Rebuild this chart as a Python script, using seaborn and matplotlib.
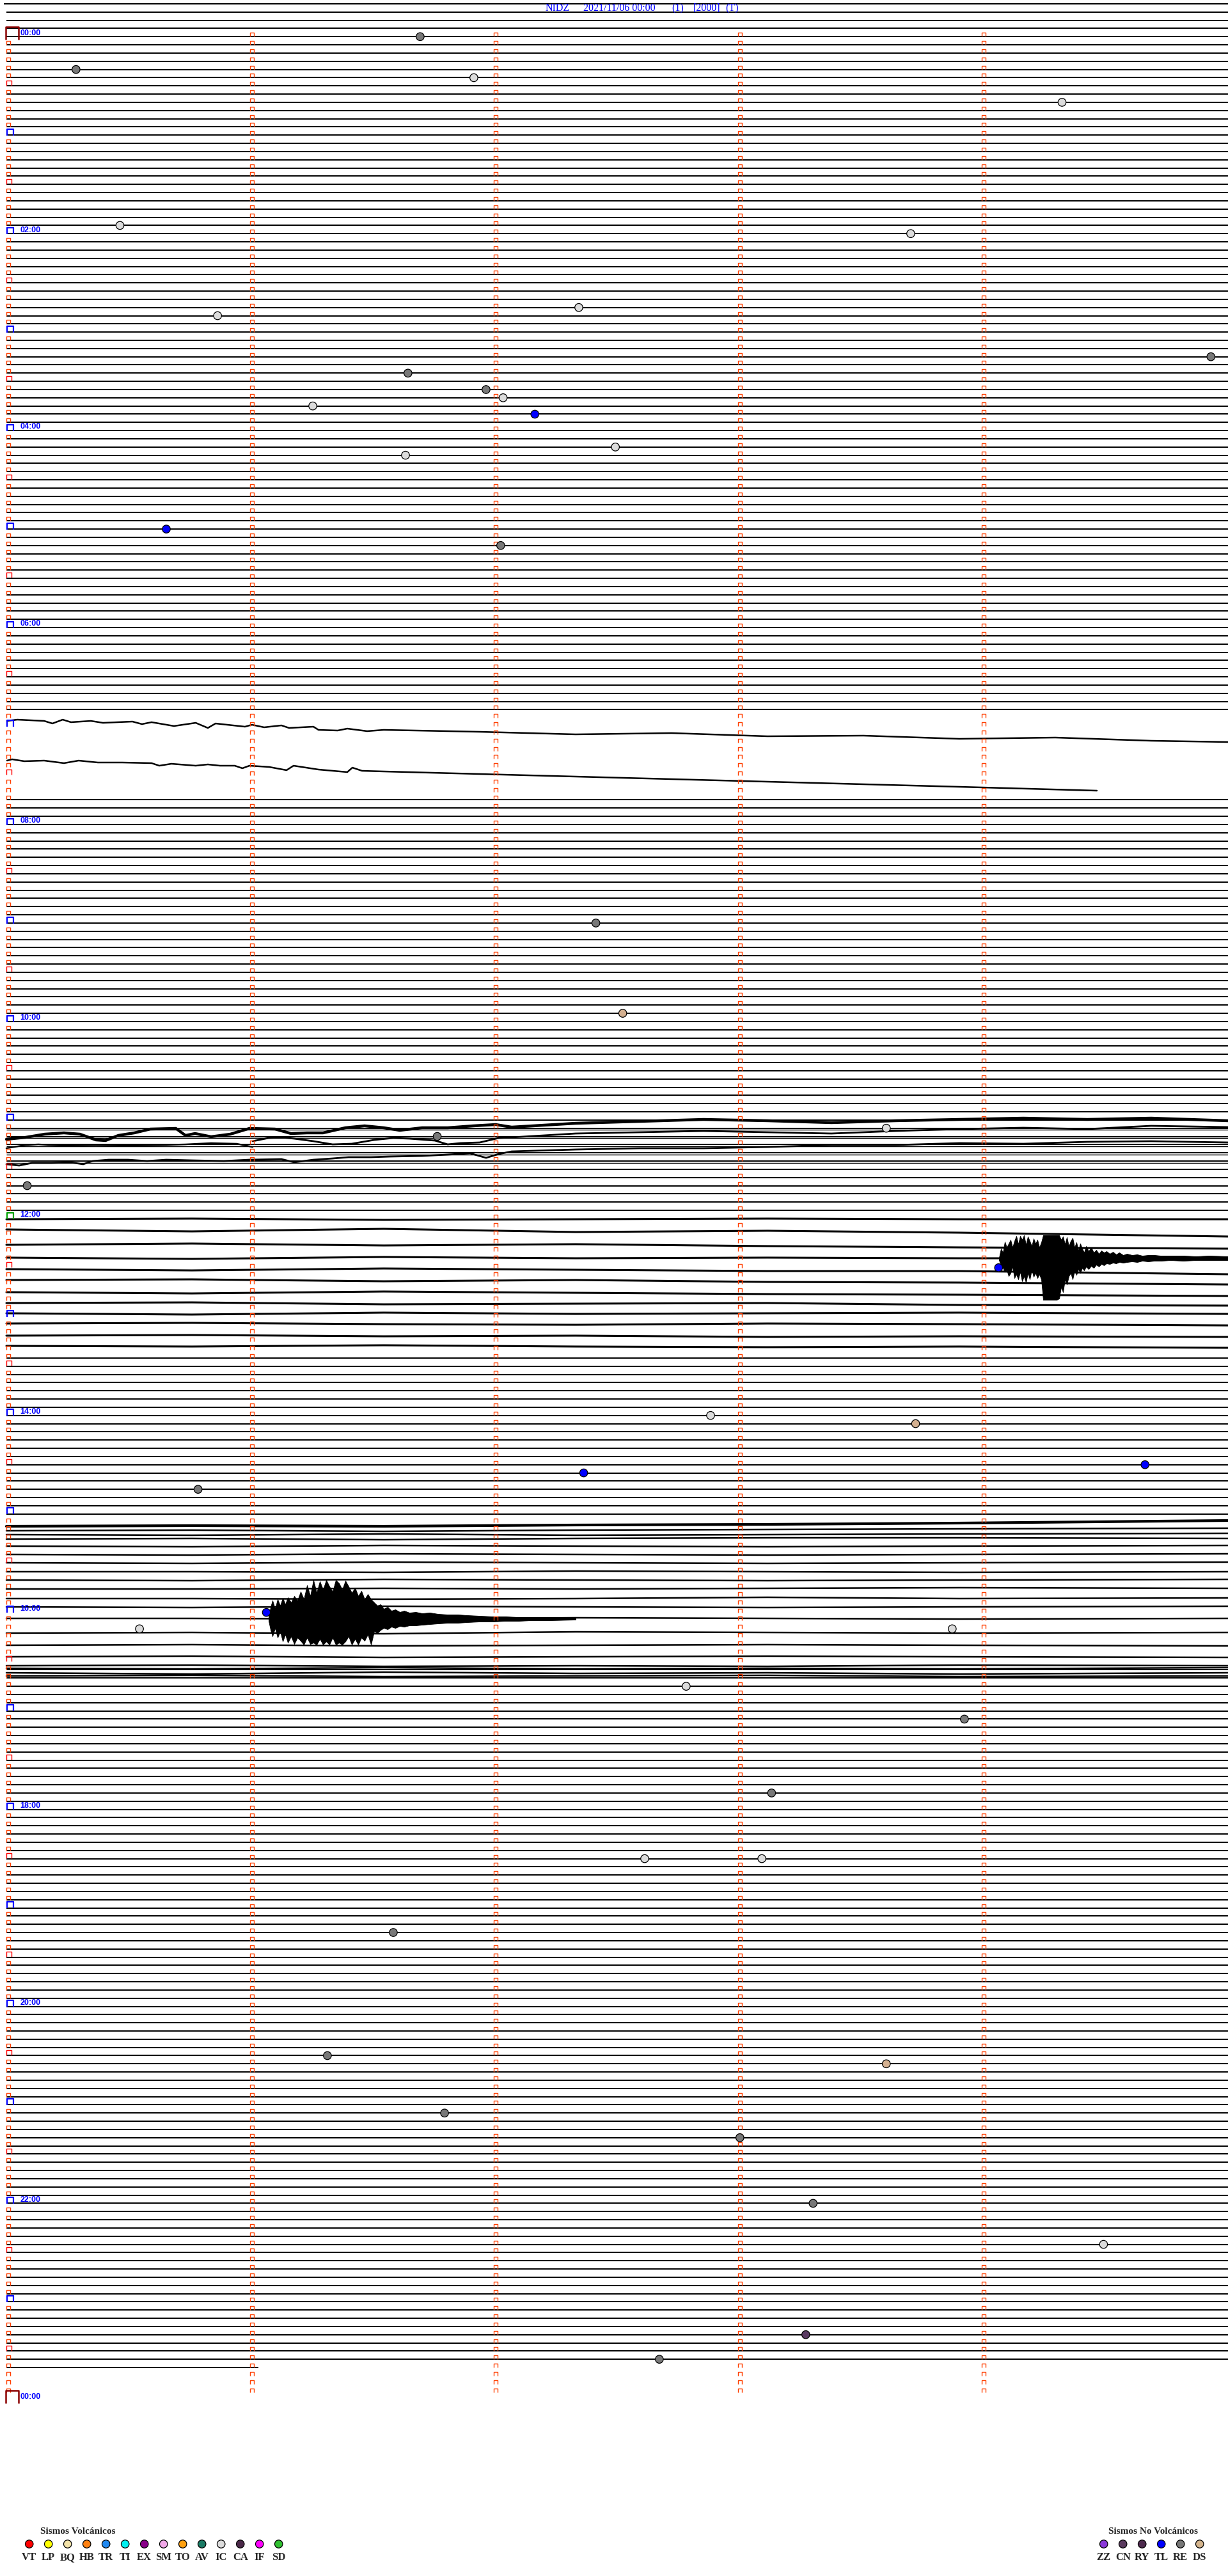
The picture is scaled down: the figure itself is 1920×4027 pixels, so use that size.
import numpy as np
import matplotlib
matplotlib.use("Agg")
import matplotlib.pyplot as plt
from matplotlib.path import Path
import seaborn as sns

# ---------------- data ----------------
header_parts = ["NIDZ", "2021/11/06 00:00", "(1)", "[2000]", "(T)"]
header_x = [853, 912, 1050, 1084, 1134]

hour_labels = ["00:00", "02:00", "04:00", "06:00", "08:00", "10:00", "12:00",
               "14:00", "16:00", "18:00", "20:00", "22:00", "00:00"]

# event times (minutes after 00:00) and types
event_min = [1.69, 20.28, 26.91, 44.32, 115.46, 123.70, 167.34, 170.86, 199.93,
             206.64, 216.96, 222.03, 226.25, 232.16, 252.49, 256.63, 300.65,
             312.02, 542.41, 597.52, 668.60, 671.76, 700.08, 754.06, 842.88,
             848.72, 874.66, 877.36, 885.78, 961.06, 970.54, 973.87, 1007.78,
             1028.92, 1073.13, 1112.61, 1113.09, 1156.58, 1231.31, 1238.60,
             1266.79, 1283.00, 1323.30, 1349.49, 1403.27, 1417.67]
event_type = ["RE", "RE", "IC", "IC", "IC", "IC", "IC", "IC", "RE",
              "RE", "RE", "IC", "IC", "TL", "IC", "IC", "TL",
              "RE", "RE", "DS", "IC", "RE", "RE", "TL", "IC",
              "DS", "TL", "TL", "RE", "TL", "IC", "IC", "IC",
              "RE", "RE", "IC", "IC", "RE", "RE", "DS",
              "RE", "RE", "RE", "IC", "CN", "RE"]

volc_codes = ["VT", "LP", "BQ", "HB", "TR", "TI", "EX", "SM", "TO", "AV", "IC", "CA", "IF", "SD"]
volc_colors = ["#ff0000", "#ffff00", "#f2e2a8", "#ff8010", "#2088f0", "#00f0f0", "#880088",
               "#f0a8e8", "#ffa010", "#1a7a64", "#dcdcdc", "#4a2848", "#ff00ff", "#30c030"]
novolc_codes = ["ZZ", "CN", "RY", "TL", "RE", "DS"]
novolc_colors = ["#8a38d8", "#5a3a5e", "#4e2a4e", "#0000ff", "#767676", "#d4b48c"]
type_colors = {"RE": "#787878", "IC": "#dcdcdc", "TL": "#0000ff", "DS": "#d4b090", "CN": "#5a3a62"}

# drifting traces (pixel positions read from the record)
a1_x = [11, 27, 69, 82, 98, 111, 142, 161, 207, 222, 237, 272, 306, 325, 337, 383, 394, 413,
        440, 452, 490, 498, 528, 543, 574, 600, 750, 900, 1050, 1200, 1350, 1500, 1650, 1800, 1920]
a1_y = [1127, 1125, 1127, 1131, 1125, 1129, 1127, 1130, 1128, 1132, 1129, 1135, 1130, 1138, 1131,
        1136, 1133, 1137, 1134, 1138, 1136, 1141, 1142, 1139, 1143, 1141, 1144, 1148, 1146, 1151,
        1150, 1155, 1153, 1158, 1160]
a2_x = [11, 19, 38, 69, 100, 123, 153, 191, 237, 249, 268, 306, 325, 344, 367, 379, 390, 421,
        448, 459, 498, 543, 551, 566, 600, 750, 900, 1050, 1200, 1350, 1500, 1715]
a2_y = [1189, 1187, 1190, 1189, 1193, 1189, 1192, 1192, 1193, 1197, 1194, 1197, 1195, 1197, 1197,
        1201, 1197, 1199, 1204, 1197, 1203, 1207, 1200, 1205, 1206, 1210, 1214, 1218, 1222, 1226,
        1230, 1236]

b1_x = [10, 40, 70, 100, 125, 150, 165, 185, 210, 235, 275, 290, 305, 330, 360, 390, 430, 455, 480,
        505, 540, 570, 600, 625, 660, 700, 740, 775, 800, 900, 1000, 1100, 1200, 1300, 1400, 1500,
        1600, 1700, 1800, 1920]
b1_y = [1781, 1778, 1773, 1771, 1773, 1782, 1783, 1775, 1771, 1765, 1764, 1775, 1772, 1777, 1773,
        1764, 1765, 1772, 1771, 1771, 1763, 1760, 1763, 1767, 1763, 1763, 1760, 1758, 1762, 1756,
        1753, 1750, 1752, 1755, 1752, 1750, 1748, 1750, 1748, 1752]
b2_x = [10, 40, 60, 100, 150, 200, 250, 290, 330, 370, 395]
b2_y = [1795, 1790, 1789, 1791, 1790, 1791, 1790, 1789, 1787, 1788, 1793]
b3_x = [395, 420, 440, 460, 490, 520, 550, 585, 615, 640, 680, 700, 720, 750, 780, 800, 900, 1000,
        1100, 1200, 1300, 1400, 1500, 1600, 1700, 1800, 1920]
b3_y = [1784, 1779, 1778, 1780, 1784, 1789, 1788, 1782, 1779, 1780, 1783, 1789, 1787, 1786, 1779,
        1778, 1772, 1770, 1768, 1770, 1772, 1768, 1765, 1763, 1765, 1760, 1762]
b4_x = [10, 30, 50, 80, 110, 130, 145, 170, 200, 230, 260, 300, 350, 390, 440, 460, 490, 520, 545,
        580, 610, 660, 700, 735, 760, 780, 800, 900, 1000, 1100, 1200, 1300, 1400, 1500, 1600,
        1700, 1800, 1920]
b4_y = [1820, 1822, 1818, 1818, 1817, 1820, 1815, 1813, 1813, 1815, 1813, 1814, 1815, 1813, 1812,
        1817, 1813, 1811, 1809, 1809, 1808, 1807, 1805, 1803, 1810, 1804, 1800, 1797, 1795, 1795,
        1793, 1790, 1790, 1787, 1788, 1785, 1784, 1786]

band_x = [10, 300, 600, 900, 1200, 1500, 1920]
c_traces = [[1906, 1905, 1907, 1906, 1905, 1906, 1906],
            [1922, 1925, 1921, 1926, 1924, 1927, 1933],
            [1946, 1944, 1947, 1945, 1948, 1950, 1952],
            [1966, 1968, 1965, 1967, 1966, 1967, 1967],
            [1984, 1986, 1983, 1985, 1987, 1987, 1992],
            [2001, 2000, 2003, 2001, 2004, 2005, 2008],
            [2020, 2022, 2019, 2021, 2023, 2024, 2026],
            [2037, 2036, 2039, 2038, 2037, 2040, 2041],
            [2053, 2055, 2052, 2054, 2053, 2052, 2054],
            [2069, 2068, 2070, 2071, 2069, 2070, 2072],
            [2088, 2087, 2089, 2088, 2090, 2089, 2090],
            [2104, 2105, 2103, 2105, 2106, 2105, 2107]]
d_top = [2386, 2385, 2386, 2384, 2383, 2381, 2377]
d_traces = [[2393, 2392, 2394, 2392, 2391, 2390, 2389],
            [2399, 2400, 2398, 2400, 2399, 2398, 2397],
            [2406, 2405, 2407, 2405, 2404, 2404, 2405],
            [2417, 2418, 2416, 2417, 2418, 2417, 2416],
            [2430, 2431, 2429, 2430, 2431, 2430, 2429],
            [2443, 2444, 2442, 2443, 2444, 2443, 2442],
            [2457, 2457, 2458, 2456, 2457, 2458, 2457],
            [2470, 2471, 2469, 2470, 2471, 2470, 2469],
            [2484, 2484, 2483, 2484, 2483, 2482, 2483],
            [2499, 2499, 2500, 2499, 2497, 2499, 2498],
            [2512, 2513, 2511, 2512, 2513, 2512, 2511],
            [2530, 2530, 2531, 2529, 2530, 2531, 2530],
            [2553, 2552, 2554, 2551, 2552, 2553, 2552],
            [2572, 2571, 2573, 2572, 2571, 2572, 2573],
            [2590, 2589, 2591, 2590, 2589, 2590, 2591],
            [2604, 2603, 2605, 2604, 2605, 2603, 2604],
            [2608, 2609, 2607, 2609, 2608, 2609, 2607],
            [2615, 2617, 2614, 2616, 2615, 2617, 2615],
            [2620, 2619, 2621, 2620, 2619, 2621, 2620]]

# earthquake envelopes (x, top, bottom) read from the record
q1_x = [1562, 1565, 1568, 1571, 1574, 1577, 1580, 1583, 1586, 1589, 1592, 1595, 1598, 1601, 1604,
        1607, 1610, 1613, 1616, 1619, 1622, 1625, 1628, 1631, 1634, 1640, 1646, 1652, 1656, 1659,
        1662, 1665, 1668, 1671, 1674, 1677, 1680, 1683, 1686, 1689, 1692, 1695, 1698, 1702, 1706,
        1710, 1714, 1718, 1722, 1726, 1730, 1735, 1740, 1745, 1750, 1756, 1762, 1770, 1778, 1786,
        1795, 1805, 1815, 1830, 1850, 1870, 1890, 1920]
q1_top = [1966, 1952, 1958, 1941, 1950, 1944, 1938, 1950, 1940, 1932, 1945, 1932, 1938, 1931, 1946,
          1933, 1940, 1948, 1936, 1944, 1938, 1950, 1942, 1931, 1931, 1931, 1931, 1931, 1931, 1938,
          1933, 1945, 1934, 1948, 1940, 1935, 1950, 1942, 1955, 1944, 1952, 1958, 1948, 1956, 1950,
          1958, 1954, 1960, 1955, 1958, 1956, 1960, 1957, 1961, 1958, 1962, 1960, 1962, 1961, 1963,
          1962, 1962, 1963, 1963, 1963, 1964, 1963, 1964]
q1_bot = [1970, 1978, 1982, 1988, 1985, 1995, 1990, 1980, 1998, 1992, 2000, 1988, 2003, 1995, 2005,
          1990, 2000, 1985, 1996, 1990, 1998, 1992, 2000, 2032, 2032, 2032, 2032, 2032, 2030, 2012,
          2020, 2000, 2008, 1995, 1990, 2000, 1986, 1993, 1984, 1990, 1982, 1986, 1980, 1984, 1979,
          1982, 1977, 1980, 1976, 1978, 1975, 1976, 1974, 1975, 1973, 1974, 1973, 1972, 1973, 1971,
          1972, 1971, 1971, 1970, 1971, 1970, 1970, 1970]
q2_x = [420, 423, 426, 430, 434, 438, 442, 446, 450, 455, 460, 465, 470, 475, 480, 485, 490, 495,
        500, 505, 510, 515, 520, 525, 530, 535, 540, 545, 550, 555, 560, 565, 570, 575, 580, 585,
        590, 595, 600, 606, 612, 618, 625, 632, 640, 650, 660, 672, 685, 700, 715, 730, 750, 770,
        790, 810, 830, 860, 900]
q2_top = [2528, 2512, 2502, 2515, 2500, 2510, 2498, 2508, 2497, 2505, 2495, 2502, 2488, 2500, 2478,
          2495, 2470, 2490, 2472, 2485, 2470, 2480, 2488, 2470, 2475, 2485, 2471, 2480, 2490, 2482,
          2495, 2487, 2500, 2492, 2500, 2505, 2510, 2508, 2515, 2512, 2518, 2516, 2520, 2518, 2521,
          2520, 2522, 2521, 2523, 2524, 2524, 2525, 2526, 2527, 2527, 2528, 2528, 2528, 2529]
q2_bot = [2534, 2548, 2558, 2545, 2560, 2550, 2566, 2555, 2568, 2558, 2570, 2560, 2565, 2571, 2560,
          2570, 2568, 2571, 2562, 2571, 2566, 2571, 2560, 2571, 2568, 2571, 2566, 2558, 2571, 2562,
          2571, 2560, 2565, 2555, 2571, 2550, 2553, 2548, 2545, 2547, 2543, 2545, 2542, 2543, 2541,
          2541, 2540, 2539, 2538, 2537, 2537, 2536, 2535, 2535, 2534, 2534, 2533, 2533, 2532]

# ---------------- layout ----------------
W, H = 1920, 4027
row0_y, row_dy = 57.3, 12.83
x0, px_min = 12.0, 381.6
first_row, last_row, last_row_end = -4, 284, 404
skip_rows = set(range(83, 93)) | set(range(144, 161)) | set(range(181, 199))

sns.set_theme(style="white")
plt.rcParams['font.family'] = ['DejaVu Sans']

fig = plt.figure(figsize=(W / 100, H / 100), dpi=100)
ax = fig.add_axes([0, 0, 1, 1])
ax.set_xlim(0, W)
ax.set_ylim(H, 0)
ax.axis("off")

def row_y(i):
    return row0_y + row_dy * i

# straight lines of quiet rows
rows = [i for i in range(first_row, last_row + 1) if i not in skip_rows]
ys = [row_y(i) for i in rows]
xs_start = [6 if i == first_row else 10 for i in rows]
xs_end = [last_row_end if i == last_row else W for i in rows]
ax.hlines(ys, xs_start, xs_end, color="black", lw=1.44, antialiased=False)
# doubled lines in the 11:00 block
ax.hlines([row_y(i) + 2.5 for i in range(133, 138)], 10, W, color="black", lw=1.0)

# drifting / noisy traces
ax.plot(a1_x, a1_y, color="black", lw=1.8)
ax.plot(a2_x, a2_y, color="black", lw=1.8)
ax.plot(b1_x, b1_y, color="black", lw=3.2)
ax.plot(b2_x, b2_y, color="black", lw=1.8)
ax.plot(b3_x, b3_y, color="black", lw=2.0)
ax.plot(b4_x, b4_y, color="black", lw=2.0)
for tr in c_traces:
    ax.plot(band_x, tr, color="black", lw=2.2)
ax.plot(band_x, d_top, color="black", lw=3.0)
for tr in d_traces:
    ax.plot(band_x, tr, color="black", lw=1.8)
ax.fill_between(q1_x, q1_top, q1_bot, color="black", lw=0.6)
ax.fill_between(q2_x, q2_top, q2_bot, color="black", lw=0.6)

# minute ticks (small open-bottom boxes)
cap = Path([(-1, -1), (-1, 1), (1, 1), (1, -1)],
           [Path.MOVETO, Path.LINETO, Path.LINETO, Path.LINETO])
tick_rows = np.arange(0, 288)
minute_cols = [x0 + px_min * k for k in range(1, 5)]
for cx in minute_cols:
    ax.plot(np.full(len(tick_rows), cx), row_y(tick_rows) - 3, ls="none", marker=cap,
            ms=4.0, mew=1.0, mfc="none", mec="#ff4000")
small = [i for i in tick_rows if i % 6 != 0]
ax.plot(np.full(len(small), 12.5), row_y(np.array(small)) - 3, ls="none", marker=cap,
        ms=4.0, mew=1.0, mfc="none", mec="#ff4000")
half = [i for i in tick_rows if i % 12 == 6]
ax.plot(np.full(len(half), 14.3), row_y(np.array(half)) - 4.6, ls="none", marker=cap,
        ms=6.3, mew=1.0, mfc="none", mec="#ff0000")
hours = np.arange(12, 288, 12)
hour_colors = ["#00a000" if h == 144 else "#0000ff" for h in hours]
for h, c in zip(hours, hour_colors):
    ax.plot(15.5, row_y(h) - 4.3, ls="none", marker=cap, ms=7.5, mew=1.6, mfc="none", mec=c)
for h in [0, 288]:
    ax.plot(19.3, row_y(h) - 5, ls="none", marker=cap, ms=14.5, mew=1.8, mfc="none", mec="#8b0000")

# hour labels
for k, lab in enumerate(hour_labels):
    ax.text(31.5, row_y(24 * k) - 5.7, lab, color="#0000ff", fontsize=9, fontweight="bold",
            family="Liberation Sans", va="center", ha="left")

# header
for txt, hx in zip(header_parts, header_x):
    ax.text(hx, 13, txt, color="#0000ff", fontsize=11.5, family="Liberation Serif",
            va="center", ha="left")

# events
ev_row = np.floor(np.array(event_min) / 5)
ev_x = x0 + (np.array(event_min) - 5 * ev_row) * px_min
ev_y = row_y(ev_row)
sns.scatterplot(x=ev_x, y=ev_y, hue=event_type, palette=type_colors, s=80,
                edgecolor="black", linewidth=0.9, legend=False, ax=ax, zorder=5)

# bottom legends
ax.text(63, 3957, "Sismos Volcánicos", fontsize=11, fontweight="bold",
        family="Liberation Serif", va="center", ha="left")
vx = 45.7 + 30 * np.arange(len(volc_codes))
ax.scatter(vx, np.full(len(vx), 3977), c=volc_colors, s=80, edgecolors="black", linewidths=0.9)
for x, c in zip(vx, volc_codes):
    ax.text(x, 3998, c, fontsize=12, fontweight="bold", family="Liberation Serif",
            va="center", ha="center")
ax.text(1733, 3957, "Sismos No Volcánicos", fontsize=11, fontweight="bold",
        family="Liberation Serif", va="center", ha="left")
nx = 1725.7 + 30 * np.arange(len(novolc_codes))
ax.scatter(nx, np.full(len(nx), 3977), c=novolc_colors, s=80, edgecolors="black", linewidths=0.9)
for x, c in zip(nx, novolc_codes):
    ax.text(x, 3998, c, fontsize=12, fontweight="bold", family="Liberation Serif",
            va="center", ha="center")

fig.savefig("out.png", dpi=100, facecolor="white")
